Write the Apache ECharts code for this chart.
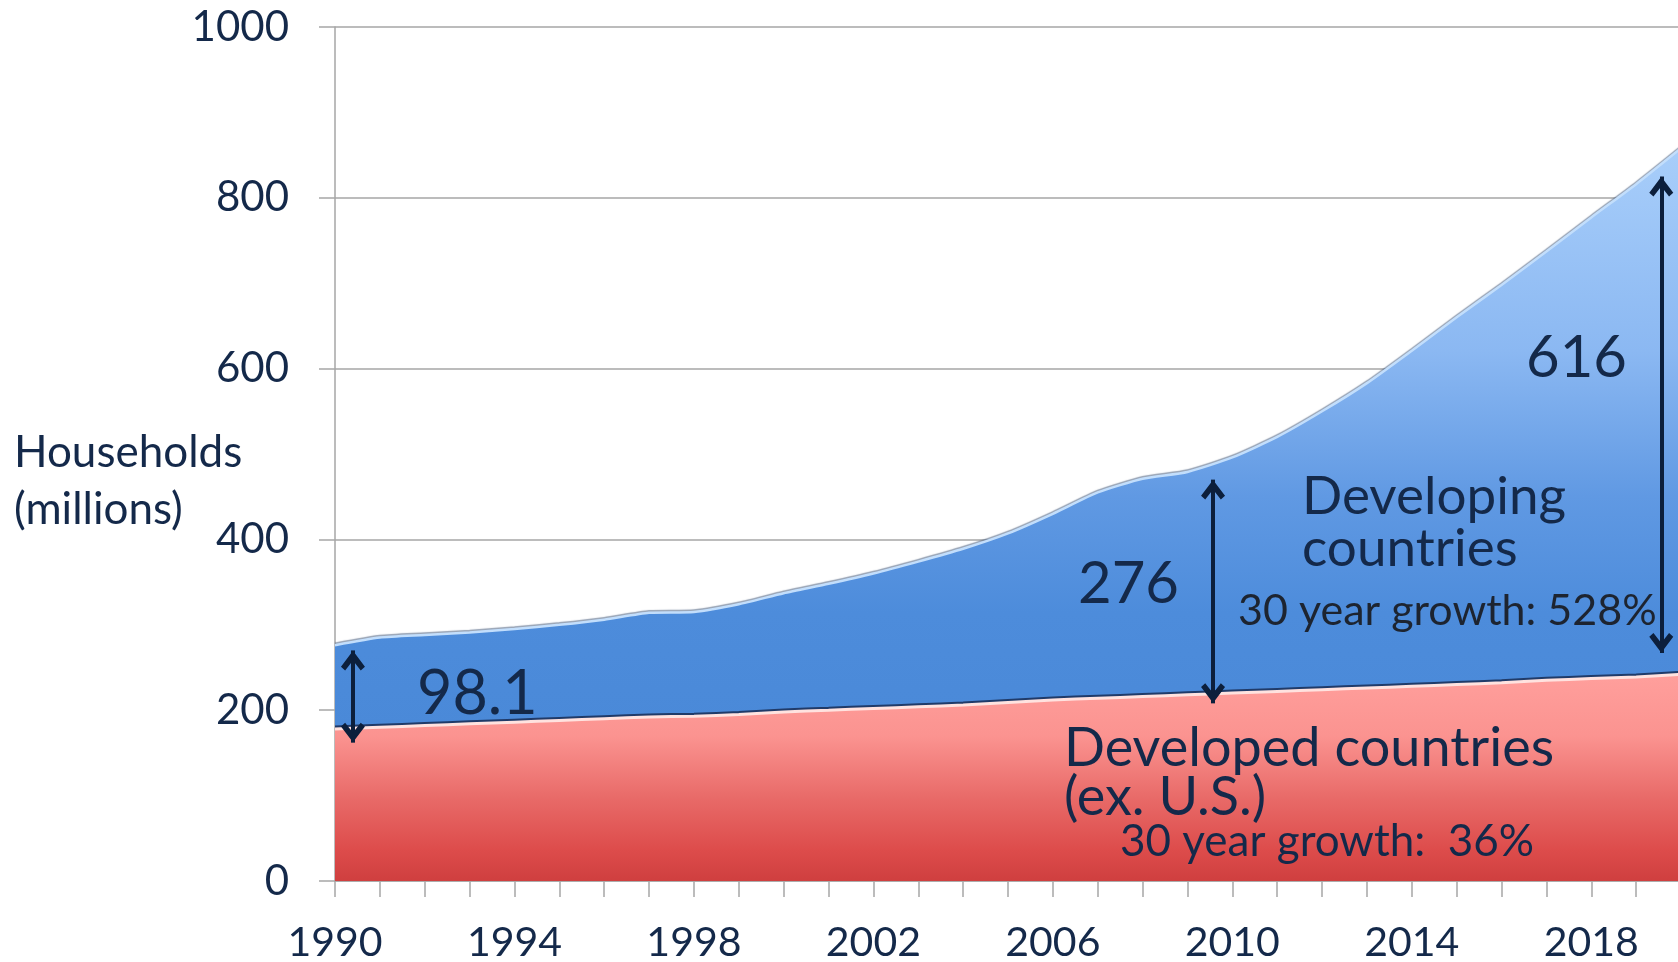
<!DOCTYPE html>
<html><head><meta charset="utf-8">
<script src="https://cdn.jsdelivr.net/npm/echarts@6/dist/echarts.min.js"></script>
<style>html,body{margin:0;padding:0;background:#fff}#c{width:1678px;height:962px}</style>
</head><body><div id="c"></div>
<script>
// ---- data (millions of households) ----
const years = ['1990','1991','1992','1993','1994','1995','1996','1997','1998','1999','2000','2001','2002','2003','2004','2005','2006','2007','2008','2009','2010','2011','2012','2013','2014','2015','2016','2017','2018','2019','2020'];
const developed = [178,180,182,184,186,188,190,192,193,195,198,200,202,204,206,209,212,214,216,218,220,222,224,226,228,230,232,235,237,239,242];
const developing = [98.1,105,106,107,109,112,116,122,122,129,139,148,158,170,183,198,218,241,255,261,276,298,326,357,393,430,466,502,540,577,616];
const yTicks = [0,200,400,600,800,1000];
// double-headed arrows: [year position, upper value, lower value]
const arrows = [[1990.4,270,162],[2009.57,470,208],[2019.56,825,267]];

const TXT = '#14294a';
const FONT = 'Lato';
const chart = echarts.init(document.getElementById('c'), null, {renderer:'canvas'});
const head = 'path://M8,0 L8.001,0 Z M8,13 L16,23.2 L13.2,25.6 L8,19.2 L2.8,25.6 L0,23.2 Z';

const text = (t, x, y, size, color) => ({
  type:'text', x:x, y:y, z:100,
  style:{text:t, fill:color||TXT, fontSize:size, fontFamily:FONT, align:'left', verticalAlign:'middle'}
});

chart.setOption({
  backgroundColor:'#fff',
  animation:false,
  grid:{left:335, right:-3, top:27, bottom:81, containLabel:false, outerBoundsMode:'none'},
  xAxis:[{
    type:'category', data:years, boundaryGap:false,
    axisLine:{show:true, lineStyle:{color:'#a6a6a6', width:1.5}},
    axisTick:{show:true, interval:0, length:16, lineStyle:{color:'#a6a6a6', width:1.5}},
    splitLine:{show:false},
    axisLabel:{interval:3, margin:41, color:TXT, fontSize:41, fontFamily:FONT}
  },{
    type:'value', min:Number(years[0]), max:Number(years[years.length-1]), show:false
  }],
  yAxis:{
    type:'value', min:yTicks[0], max:yTicks[yTicks.length-1], interval:200,
    axisLine:{show:true, lineStyle:{color:'#a6a6a6', width:1.5}},
    axisTick:{show:true, length:16, lineStyle:{color:'#a6a6a6', width:1.5}},
    splitLine:{show:true, lineStyle:{color:'#a6a6a6', width:1.5}},
    axisLabel:{margin:46, color:TXT, fontSize:42, fontFamily:FONT, formatter:v=>String(v)}
  },
  series:[
    {
      name:'Developed countries (ex. U.S.)', type:'line', stack:'total', z:4,
      data:developed, showSymbol:false, smooth:0.2,
      lineStyle:{color:'#ffe2df', width:3, shadowColor:'rgba(25,45,85,0.85)', shadowBlur:0, shadowOffsetY:-2},
      areaStyle:{opacity:1, color:new echarts.graphic.LinearGradient(0,0,0,1,[
        {offset:0,color:'#ff9f9c'},{offset:0.3,color:'#fb9390'},{offset:0.6,color:'#e86a68'},
        {offset:0.85,color:'#dd4c4b'},{offset:1,color:'#cf3f3f'}])}
    },
    {
      name:'Developing countries', type:'line', stack:'total', z:3,
      data:developing, showSymbol:false, smooth:0.2,
      lineStyle:{color:'#c2defc', width:2.5, shadowColor:'rgba(80,100,130,0.6)', shadowBlur:1, shadowOffsetY:-1.5},
      areaStyle:{opacity:1, color:new echarts.graphic.LinearGradient(0,0,0,1,[
        {offset:0,color:'#a8cefa'},{offset:0.35,color:'#8bb8f2'},{offset:0.6,color:'#6099e3'},
        {offset:0.8,color:'#4d8cdb'},{offset:1,color:'#4a89d8'}])}
    },
    {
      name:'arrows', type:'line', xAxisIndex:1, data:[], z:10, silent:true,
      markLine:{
        silent:true, symbol:[head, head], symbolSize:[24,40],
        label:{show:false},
        lineStyle:{color:'#0c1f3c', width:4, type:'solid'},
        emphasis:{disabled:true},
        data:arrows.map(a=>[{coord:[a[0],a[1]]},{coord:[a[0],a[2]]}])
      }
    }
  ],
  graphic:[
    text('Households', 14, 453, 44),
    text('(millions)', 14, 510, 44),
    text('98.1', 417, 694, 61),
    text('276', 1078, 584, 58),
    text('616', 1526, 358, 58),
    text('Developing', 1302, 497, 53),
    text('countries', 1302, 549, 53),
    text('30 year growth: 528%', 1238, 611, 43, '#1d2430'),
    text('Developed countries', 1064, 749, 54),
    text('(ex. U.S.)', 1064, 798, 54),
    text('30 year growth:  36%', 1120, 842, 44)
  ]
});
</script>
</body></html>
